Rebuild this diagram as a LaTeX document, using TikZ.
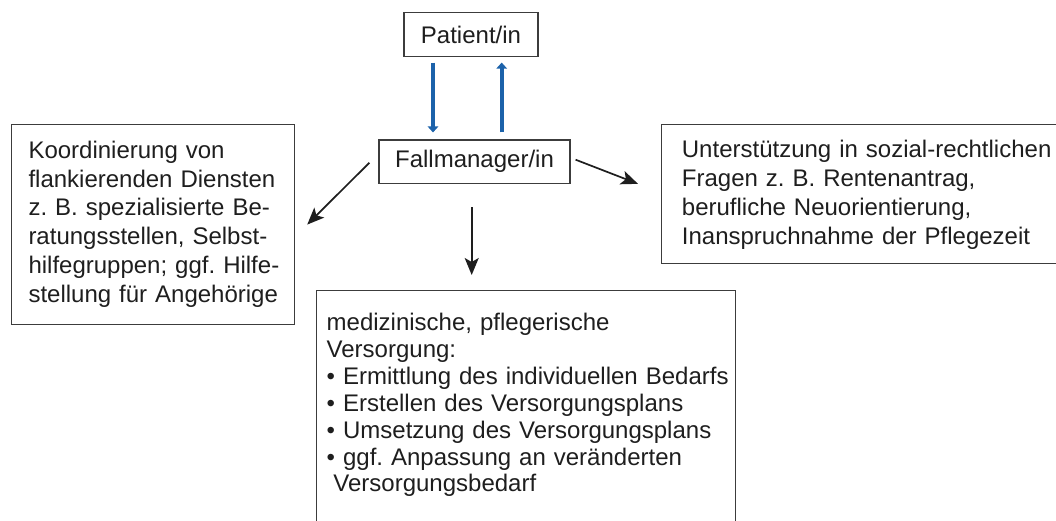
\documentclass[tikz,border=0pt]{standalone}
\usepackage{fontspec}
\setmainfont{Liberation Sans}
\usetikzlibrary{arrows.meta}
\definecolor{linkblue}{RGB}{28,98,170}
\definecolor{ink}{RGB}{30,30,30}
\definecolor{framegray}{RGB}{60,60,60}
\frenchspacing
\begin{document}
\begin{tikzpicture}[x=1pt,y=-1pt,
  frame/.style={draw=framegray, line width=1.2pt, inner sep=0pt},
  boxframe/.style={frame, anchor=north west},
  label box/.style={frame, text=ink, font=\fontsize{24}{28.8}\selectfont},
  bodytext/.style={text=ink, inner sep=0pt, anchor=base west, align=left},
  loose/.style={font=\fontsize{24}{28.8}\selectfont},
  tight/.style={font=\fontsize{24}{26.9}\selectfont},
  bluearrow/.style={draw=linkblue, line width=4pt, -{Triangle[length=6pt,width=10.5pt]}},
  blackarrow/.style={draw=ink, line width=1.7pt, -{Stealth[length=17pt,width=14pt,inset=4pt]}}
]
\useasboundingbox (0,0) rectangle (1056,521);

% central pair of boxes
\node[label box, minimum width=134pt, minimum height=44pt] (P) at (471,34.7) {Patient/in};
\node[label box, minimum width=191pt, minimum height=43.3pt] (F) at (474.5,161.7) {Fallmanager/in};

% outer boxes
\node[boxframe, minimum width=283pt, minimum height=200pt] (lbox) at (11,124) {};
\node[boxframe, minimum width=409pt, minimum height=138.5pt] (rbox) at (661,124) {};
\node[boxframe, minimum width=419pt, minimum height=250pt] (bbox) at (316,290) {};

% box texts
\node[bodytext, loose, text width=262pt] (ltext) at (28.3,158.3)
  {Koordinierung von\\flankierenden Diensten\\z. B. spezialisierte Be-\\ratungsstellen, Selbst-\\hilfegruppen; ggf. Hilfe-\\stellung für Angehörige};
\node[bodytext, loose, text width=380pt] (rtext) at (681.7,157.7)
  {Unterstützung in sozial-rechtlichen\\Fragen z. B. Rentenantrag,\\berufliche Neuorientierung,\\Inanspruchnahme der Pflegezeit};
\node[bodytext, tight, text width=440pt] (btext) at (326.5,330.5)
  {medizinische, pflegerische\\Versorgung:\\• Ermittlung des individuellen Bedarfs\\• Erstellen des Versorgungsplans\\• Umsetzung des Versorgungsplans\\• ggf. Anpassung an veränderten\\\hspace*{0.28em}Versorgungsbedarf};

% exchange between patient and case manager
\draw[bluearrow, shorten <=5.3pt, shorten >=7pt]
  ([xshift=-38pt]P.south) -- ([xshift=-38pt]P.south |- F.north);
\draw[bluearrow, shorten <=7pt, shorten >=5.3pt]
  ([xshift=30.7pt]P.south |- F.north) -- ([xshift=30.7pt]P.south);

% tasks of the case manager
\draw[blackarrow] ([xshift=-9pt,yshift=-1pt]F.west) -- ([xshift=12pt]lbox.east);
\draw[blackarrow] ([xshift=5pt,yshift=2pt]F.east) -- ([xshift=-23pt,yshift=10pt]rbox.west);
\draw[blackarrow, shorten <=23.4pt, shorten >=15pt]
  ([xshift=-2.8pt]F.south) -- ([xshift=-2.8pt]F.south |- bbox.north);
\end{tikzpicture}
\end{document}
